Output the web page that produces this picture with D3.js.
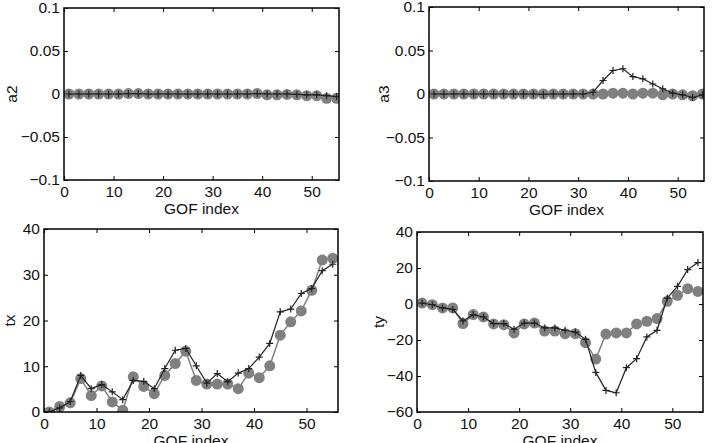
<!DOCTYPE html>
<html>
<head>
<meta charset="utf-8">
<script src="https://cdn.jsdelivr.net/npm/d3@7"></script>
<style>
  body { margin: 0; background: #fff; }
  svg { display: block; font-family: "Liberation Sans", Arial, sans-serif; }
</style>
</head>
<body>
<div id="chart"></div>
<script>
const width = 712
const height = 443

// GOF index of every sample
const gof = [1, 3, 5, 7, 9, 11, 13, 15, 17, 19, 21, 23, 25, 27, 29, 31, 33, 35, 37, 39, 41, 43, 45, 47, 49, 51, 53, 55]

// black '+' series
const a2Line = [0, 0, 0, 0, 0, 0, 0.0005, 0.0005, 0, 0, 0, 0, 0, 0, 0, 0, 0, 0, 0, 0.0005, 0, 0, 0, -0.0005, -0.001, -0.001, -0.002, -0.003]
const a3Line = [0, 0, 0, 0, 0, 0, 0, 0, 0, 0, 0, -0.0005, 0, 0, 0, 0, 0.002, 0.0155, 0.027, 0.029, 0.02, 0.0175, 0.0115, 0.006, 0.001, -0.001, -0.004, -0.001]
const txLine = [0, 0.9, 2.3, 8.0, 5.1, 6.0, 4.4, 2.7, 6.9, 6.7, 5.1, 9.5, 13.5, 13.9, 10.1, 6.3, 8.4, 6.6, 8.5, 9.5, 12.0, 15.0, 21.9, 22.5, 25.9, 27.0, 30.9, 32.3]
const tyLine = [0.5, -0.4, -2.2, -3, -9.4, -5.9, -7.2, -10.9, -10.9, -14, -10.6, -10.6, -13.3, -13.3, -14.6, -15.6, -19.6, -38, -48, -49.3, -35.4, -30.4, -18.3, -14.6, 3.3, 9.8, 19.1, 23]

// grey circle series
const a2Dots = [0, 0, 0, 0, 0, 0, 0.0005, 0.0005, 0, 0, 0, 0, 0, 0, 0, 0, 0, 0, 0, 0.0005, -0.001, -0.001, -0.0005, -0.001, -0.002, -0.002, -0.005, -0.005]
const a3Dots = [0, 0, 0, 0, 0, 0, 0, 0, 0, 0, 0, 0, 0, 0, 0, 0, 0, 0, 0.001, 0.001, 0, 0.001, 0.001, -0.001, 0, -0.001, -0.002, 0]
const txDots = [0, 1.2, 2.0, 7.3, 3.6, 5.7, 2.2, 0.4, 7.7, 5.6, 4.0, 8.0, 10.6, 13.3, 6.9, 6.1, 6.1, 6.1, 5.1, 8.5, 7.5, 10.1, 16.8, 19.7, 22.1, 26.6, 33.2, 33.6]
const tyDots = [0.5, -0.4, -2.2, -2.2, -10.9, -5.9, -7.2, -11.1, -11.5, -16.1, -11.1, -10.6, -15, -15, -16.5, -16.5, -21.5, -30.6, -16.7, -16.1, -16.1, -11.1, -9.6, -8.1, 1.5, 4.8, 8.5, 7.0]

const xTicks = [0, 10, 20, 30, 40, 50]
const a2Ticks = [-0.1, -0.05, 0, 0.05, 0.1]
const a3Ticks = [-0.1, -0.05, 0, 0.05, 0.1]
const txTicks = [0, 10, 20, 30, 40]
const tyTicks = [-60, -40, -20, 0, 20, 40]

const panels = [
  { name: 'a2', line: a2Line, dots: a2Dots, ticks: a2Ticks, xmax: 55.5, ydom: [-0.1, 0.1], box: { l: 64, r: 339, t: 8, b: 180 }, labelX: 12 },
  { name: 'a3', line: a3Line, dots: a3Dots, ticks: a3Ticks, xmax: 55.3, ydom: [-0.1, 0.1], box: { l: 429, r: 704, t: 7, b: 181 }, labelX: 384 },
  { name: 'tx', line: txLine, dots: txDots, ticks: txTicks, xmax: 56, ydom: [0, 40], box: { l: 44, r: 338, t: 229, b: 412 }, labelX: 10 },
  { name: 'ty', line: tyLine, dots: tyDots, ticks: tyTicks, xmax: 56, ydom: [-60, 40], box: { l: 417, r: 703, t: 232, b: 412 }, labelX: 379 }
]

const fmt = (v) => {
  const s = d3.format('~g')(v)
  return s.replace('-', '\u2212')
}

const svg = d3.select('#chart').append('svg')
  .attr('width', width)
  .attr('height', height)

panels.forEach((p) => {
  const b = p.box
  const x = d3.scaleLinear().domain([0, p.xmax]).range([b.l, b.r])
  const y = d3.scaleLinear().domain(p.ydom).range([b.b, b.t])
  const g = svg.append('g')

  // clip so markers stay inside the box
  const clipId = 'clip-' + p.name
  g.append('clipPath').attr('id', clipId)
    .append('rect')
    .attr('x', b.l).attr('y', b.t)
    .attr('width', b.r - b.l).attr('height', b.b - b.t)

  // ticks (inward, on all four sides)
  const tickLen = 4
  const bottomAxis = d3.axisBottom(x).tickValues(xTicks).tickSize(-tickLen).tickPadding(6).tickFormat(fmt)
  const topAxis = d3.axisTop(x).tickValues(xTicks).tickSize(-tickLen).tickFormat('')
  const leftAxis = d3.axisLeft(y).tickValues(p.ticks).tickSize(-tickLen).tickPadding(4).tickFormat(fmt)
  const rightAxis = d3.axisRight(y).tickValues(p.ticks).tickSize(-tickLen).tickFormat('')

  const ax = g.append('g')
  ax.append('g').attr('transform', `translate(0,${b.b})`).call(bottomAxis)
  ax.append('g').attr('transform', `translate(0,${b.t})`).call(topAxis)
  ax.append('g').attr('transform', `translate(${b.l},0)`).call(leftAxis)
  ax.append('g').attr('transform', `translate(${b.r},0)`).call(rightAxis)
  ax.selectAll('.domain').remove()
  ax.selectAll('.tick line').attr('stroke', '#000').attr('stroke-width', 1)
  ax.selectAll('.tick text')
    .attr('fill', '#111')
    .style('font-size', '15.5px')
    .style('font-family', '"Liberation Sans", Arial, sans-serif')

  const plot = g.append('g').attr('clip-path', `url(#${clipId})`)

  // grey series with round markers
  const lineGen = d3.line().x((d, i) => x(gof[i])).y((d) => y(d))
  plot.append('path')
    .datum(p.dots)
    .attr('d', lineGen)
    .attr('fill', 'none')
    .attr('stroke', '#808080')
    .attr('stroke-width', 1.5)
  plot.selectAll('circle.dot').data(p.dots).join('circle')
    .attr('class', 'dot')
    .attr('cx', (d, i) => x(gof[i]))
    .attr('cy', (d) => y(d))
    .attr('r', 5.5)
    .attr('fill', '#808080')

  // black series with '+' markers
  plot.append('path')
    .datum(p.line)
    .attr('d', lineGen)
    .attr('fill', 'none')
    .attr('stroke', '#222')
    .attr('stroke-width', 1.2)
  const s = 3.5
  plot.selectAll('path.plus').data(p.line).join('path')
    .attr('class', 'plus')
    .attr('d', (d, i) => {
      const cx = x(gof[i])
      const cy = y(d)
      return `M${cx - s},${cy}H${cx + s}M${cx},${cy - s}V${cy + s}`
    })
    .attr('stroke', '#222')
    .attr('stroke-width', 1.2)

  // frame
  g.append('rect')
    .attr('x', b.l).attr('y', b.t)
    .attr('width', b.r - b.l).attr('height', b.b - b.t)
    .attr('fill', 'none')
    .attr('stroke', '#000')
    .attr('stroke-width', 1.5)

  // axis labels
  g.append('text')
    .attr('x', (b.l + b.r) / 2)
    .attr('y', b.b + 34)
    .attr('text-anchor', 'middle')
    .style('font-size', '15.5px')
    .attr('fill', '#111')
    .text('GOF index')
  g.append('text')
    .attr('transform', `translate(${p.labelX + 5},${(b.t + b.b) / 2}) rotate(-90)`)
    .attr('text-anchor', 'middle')
    .style('font-size', '15.5px')
    .attr('fill', '#111')
    .text(p.name)
})
</script>
</body>
</html>
